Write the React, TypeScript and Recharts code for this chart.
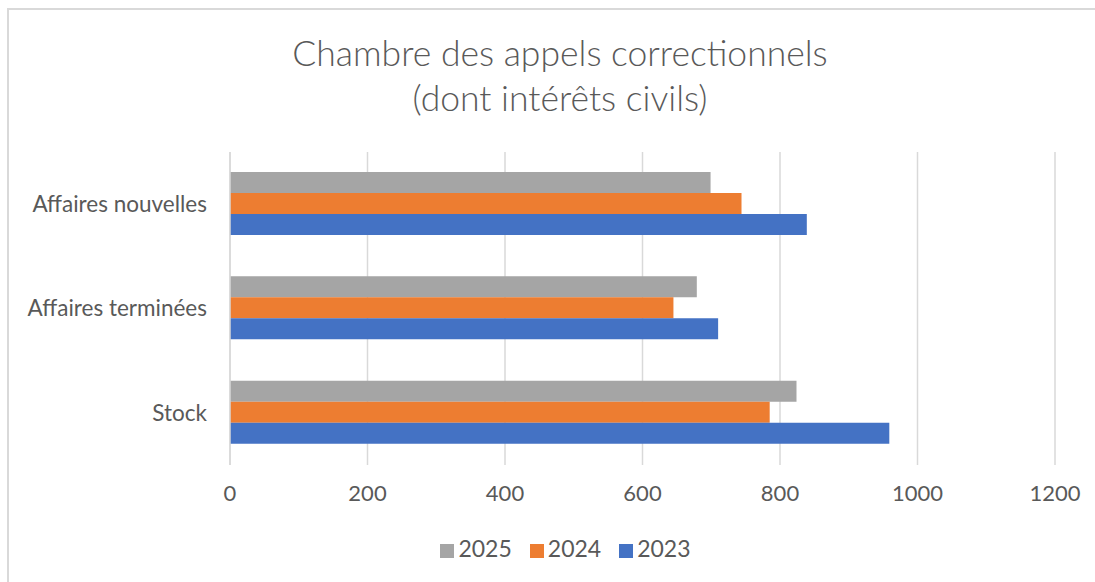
import React from "react";
import { BarChart, Bar, XAxis, YAxis, CartesianGrid, Legend } from "recharts";

const categories = ["Affaires nouvelles", "Affaires terminées", "Stock"];
const values2025 = [699, 679, 824];
const values2024 = [744, 645, 785];
const values2023 = [839, 710, 959];
const xTicks = [0, 200, 400, 600, 800, 1000, 1200];
const titleLines = ["Chambre des appels correctionnels", "(dont intérêts civils)"];

const data = categories.map((name, i) => ({
  name,
  y2025: values2025[i],
  y2024: values2024[i],
  y2023: values2023[i],
}));

const TEXT = "#595959";
const FONT = "Lato, 'Open Sans', sans-serif";

export default function App() {
  return (
    <div style={{ position: "absolute", left: 0, top: 0, width: 1095, height: 582, background: "#fff", overflow: "hidden" }}>
      <div
        style={{
          position: "absolute",
          left: 7,
          top: 8,
          width: 1200,
          height: 700,
          borderTop: "2px solid #d9d9d9",
          borderLeft: "2px solid #d9d9d9",
          boxSizing: "border-box",
        }}
      />
      <div
        style={{
          position: "absolute",
          left: 60,
          top: 30,
          width: 1000,
          textAlign: "center",
          fontFamily: FONT,
          fontWeight: 300,
          fontSize: 35.5,
          lineHeight: "45px",
          color: TEXT,
        }}
      >
        <div>{titleLines[0]}</div>
        <div>{titleLines[1]}</div>
      </div>
      <div style={{ position: "absolute", left: 0, top: 0 }}>
        <BarChart
          width={1095}
          height={582}
          data={data}
          layout="vertical"
          margin={{ top: 152, right: 40, bottom: 12, left: 0 }}
          barCategoryGap={20}
          barGap={0}
        >
          <CartesianGrid horizontal={false} stroke="#d9d9d9" strokeWidth={1.5} />
          <XAxis
            type="number"
            domain={[0, 1200]}
            ticks={xTicks}
            interval={0}
            axisLine={false}
            tickLine={false}
            tickSize={0}
            tickMargin={20}
            height={69}
            tick={{ fill: TEXT, fontSize: 22, fontFamily: FONT }}
          />
          <YAxis
            type="category"
            dataKey="name"
            width={230}
            axisLine={{ stroke: "#d9d9d9", strokeWidth: 1.5 }}
            tickLine={false}
            tickSize={0}
            tickMargin={23}
            tick={{ fill: TEXT, fontSize: 22.5, fontFamily: FONT }}
          />
          <Legend
            verticalAlign="bottom"
            height={36}
            iconType="square"
            iconSize={14}
            itemSorter={(item: any) => -Number(item.value)}
            wrapperStyle={{ fontFamily: FONT, fontSize: 23, left: 47 }}
            formatter={(value) => (
              <span style={{ color: TEXT, marginRight: 8 }}>{value}</span>
            )}
          />
          <Bar dataKey="y2025" name="2025" fill="#a5a5a5" isAnimationActive={false} />
          <Bar dataKey="y2024" name="2024" fill="#ed7d31" isAnimationActive={false} />
          <Bar dataKey="y2023" name="2023" fill="#4472c4" isAnimationActive={false} />
        </BarChart>
      </div>
    </div>
  );
}
